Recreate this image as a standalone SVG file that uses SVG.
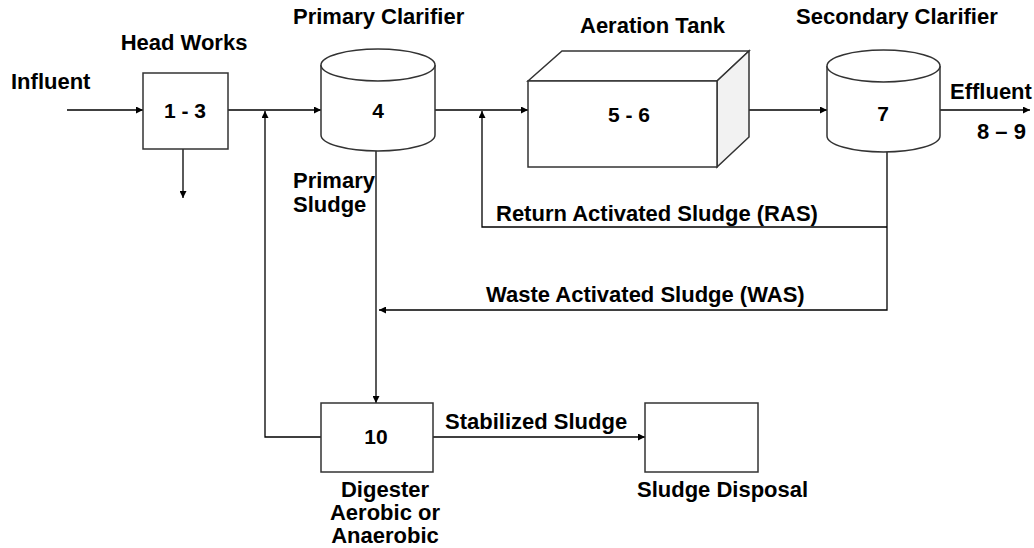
<svg xmlns="http://www.w3.org/2000/svg" width="1034" height="548" viewBox="0 0 1034 548">
<defs>
<marker id="ah" viewBox="0 0 10 10" refX="10" refY="5" markerWidth="9" markerHeight="7" markerUnits="userSpaceOnUse" orient="auto">
<path d="M0,0 L10,5 L0,10 z" fill="#000"/>
</marker>
</defs>
<style>
text{font-family:"Liberation Sans",Arial,sans-serif;font-weight:bold;font-size:22px;fill:#000}
.num{font-size:21px;text-anchor:middle}
.mid{text-anchor:middle}
.shape{fill:#fff;stroke:#333;stroke-width:1.5}
.side{fill:#f2f2f2;stroke:#333;stroke-width:1.5}
.c{fill:none;stroke:#000;stroke-width:1.3}
.a{marker-end:url(#ah)}
</style>
<rect width="1034" height="548" fill="#fff"/>
<g id="connectors">
<path class="c a" d="M67,110 H143"/>
<path class="c a" d="M228,110 H321"/>
<path class="c a" d="M183,149 V198"/>
<path class="c a" d="M321,437 H265 V111"/>
<path class="c a" d="M435,110 H528"/>
<path class="c a" d="M887,227 H482 V111"/>
<path class="c a" d="M733,110 H827"/>
<path class="c a" d="M940,110 H1030"/>
<path class="c a" d="M887,152 V310 H379"/>
<path class="c a" d="M376,151 V403"/>
<path class="c a" d="M433,437 H645"/>
</g>
<g id="influent"><text x="11" y="89">Influent</text></g>
<g id="headworks">
<rect class="shape" x="143" y="73" width="85" height="76"/>
<text class="mid" x="184" y="50">Head Works</text>
<text class="num" x="185" y="118">1 - 3</text>
</g>
<g id="primary-clarifier">
<path class="shape" d="M321,65 V135 A57,16 0 0 0 435,135 V65"/>
<ellipse class="shape" cx="378" cy="65" rx="57" ry="16"/>
<text x="293" y="24">Primary Clarifier</text>
<text class="num" x="378" y="118">4</text>
</g>
<g id="aeration-tank">
<polygon class="shape" points="528,81 562,51 749,51 717,81"/>
<polygon class="side" points="717,81 749,51 749,137 717,167"/>
<rect class="shape" x="528" y="81" width="189" height="86"/>
<text x="580" y="33">Aeration Tank</text>
<text class="num" x="629" y="122">5 - 6</text>
</g>
<g id="secondary-clarifier">
<path class="shape" d="M827,66 V136 A56.5,16 0 0 0 940,136 V66"/>
<ellipse class="shape" cx="883.5" cy="66" rx="56.5" ry="16"/>
<text x="796" y="24">Secondary Clarifier</text>
<text class="num" x="883" y="121">7</text>
</g>
<g id="effluent">
<text x="950" y="99">Effluent</text>
<text x="977" y="139">8 – 9</text>
</g>
<g id="labels">
<text x="293" y="188">Primary</text>
<text x="293" y="212">Sludge</text>
<text x="496" y="221">Return Activated Sludge (RAS)</text>
<text x="486" y="302">Waste Activated Sludge (WAS)</text>
<text x="445" y="429">Stabilized Sludge</text>
</g>
<g id="digester">
<rect class="shape" x="321" y="403" width="112" height="69"/>
<text class="num" x="376" y="444">10</text>
<text class="mid" x="385" y="497">Digester</text>
<text class="mid" x="385" y="520">Aerobic or</text>
<text class="mid" x="385" y="543">Anaerobic</text>
</g>
<g id="sludge-disposal">
<rect class="shape" x="645" y="403" width="113" height="69"/>
<text x="637" y="497">Sludge Disposal</text>
</g>
</svg>
